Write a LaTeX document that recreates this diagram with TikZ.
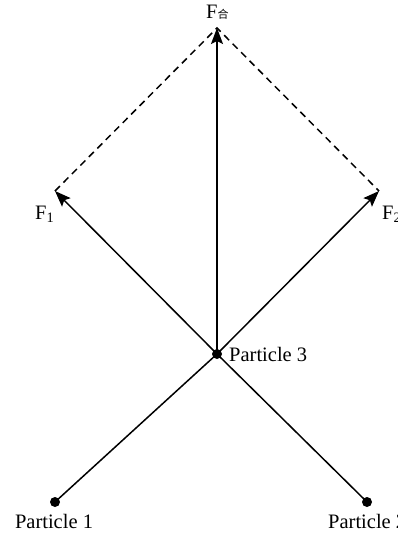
\documentclass[tikz,border=0pt]{standalone}
\usepackage{fontspec}
\setmainfont{Liberation Serif}
\newfontfamily\cjk{Noto Sans CJK SC}
\usetikzlibrary{arrows.meta}
\begin{document}
\begin{tikzpicture}[x=1pt,y=-1pt,
  force/.style={line width=1.5pt,-{Stealth[length=16pt,width=12pt,inset=3pt]}},
  plain/.style={line width=1.5pt},
  dash line/.style={line width=1.5pt,dash pattern=on 7pt off 5pt},
  dot/.style={circle,fill=black,inner sep=0pt,minimum size=10pt},
  lbl/.style={font=\fontsize{20.5}{24}\selectfont,inner sep=0pt}]
\useasboundingbox (0,0) rectangle (398,535);
\begin{scope}
\clip (0,0) rectangle (398,535);
\node[dot] (p3) at (217,354) {};
\node[dot] (p1) at (55,502) {};
\node[dot] (p2) at (367,502) {};
\coordinate (fh) at (217,28);
\coordinate (f1) at (55,191);
\coordinate (f2) at (379,191);
\draw[plain] (p1.center) -- (p3.center);
\draw[plain] (p2.center) -- (p3.center);
\draw[force] (p3.center) -- (fh);
\draw[force] (p3.center) -- (f1);
\draw[force] (p3.center) -- (f2);
\draw[dash line] (f1) -- (fh) -- (f2);
\node[lbl,anchor=west] (t3) at (229,354) {Particle 3};
\node[lbl,anchor=north] (t1) at (54,514) {Particle 1};
\node[lbl,anchor=north west] (t2) at (328,514) {Particle 2};
\node[lbl,anchor=base west] (tf1) at (35,219) {F\textsubscript{1}};
\node[lbl,anchor=base west] (tf2) at (382,219) {F\textsubscript{2}};
\node[lbl,anchor=base west] (tfh) at (206,19) {F{\fontsize{11}{11}\cjk 合}};
\end{scope}
\end{tikzpicture}
\end{document}
